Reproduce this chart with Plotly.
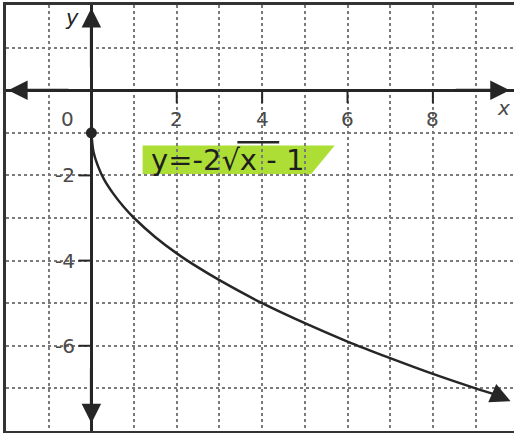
import plotly.graph_objects as go

# curve points (y = -2*sqrt(x) - 1)
curve_x = [0, 0.05, 0.15, 0.3, 0.5, 0.75, 1, 1.5, 2, 2.5, 3, 4, 5, 6, 7, 8, 9, 9.5]
curve_y = [-1, -1.45, -1.77, -2.10, -2.41, -2.73, -3.0, -3.45, -3.83, -4.16, -4.46,
           -5.0, -5.47, -5.9, -6.29, -6.66, -7.0, -7.16]
arrow_end = (9.82, -7.3)
start_point = (0, -1)

x_tick_vals = [2, 4, 6, 8]
x_tick_text = ["2", "4", "6", "8"]
y_tick_vals = [-2, -4, -6]
y_tick_text = ["-2", "-4", "-6"]

x_range = [-2, 9.9]
y_range = [-8, 2]

dark = "#262626"
grid = "#7a7a7a"
label_font = dict(family="DejaVu Sans", size=20, color="#4a4a4a")

fig = go.Figure()

fig.add_trace(go.Scatter(x=curve_x, y=curve_y, mode="lines",
                         line=dict(color=dark, width=2.5, shape="spline"),
                         hoverinfo="skip", showlegend=False))
fig.add_trace(go.Scatter(x=[start_point[0]], y=[start_point[1]], mode="markers",
                         marker=dict(color=dark, size=11), showlegend=False))

shapes = []
for v in x_tick_vals:
    shapes.append(dict(type="line", x0=v, x1=v, y0=0, y1=-0.3, xref="x", yref="y",
                       line=dict(color=dark, width=2)))
for v in y_tick_vals:
    shapes.append(dict(type="line", x0=-0.3, x1=0, y0=v, y1=v, xref="x", yref="y",
                       line=dict(color=dark, width=2)))
shapes.append(dict(type="path", path="M 1.2,-1.3 L 5.7,-1.3 L 5.15,-1.97 L 1.2,-1.97 Z",
                   xref="x", yref="y", fillcolor="#a9dc2a", line=dict(width=0),
                   layer="below", opacity=0.95))
shapes.append(dict(type="line", x0=3.42, x1=4.4, y0=-1.22, y1=-1.22, xref="x", yref="y",
                   line=dict(color=dark, width=2.5)))

annotations = []
for v, t in zip(x_tick_vals, x_tick_text):
    annotations.append(dict(x=v, y=-0.68, text=t, showarrow=False, font=label_font))
annotations.append(dict(x=-0.55, y=-0.68, text="0", showarrow=False, font=label_font))
for v, t in zip(y_tick_vals, y_tick_text):
    annotations.append(dict(x=-0.62, y=v, text=t, showarrow=False, font=label_font))
annotations.append(dict(x=9.65, y=-0.42, text="<i>x</i>", showarrow=False, font=label_font))
annotations.append(dict(x=-0.45, y=1.7, text="<i>y</i>", showarrow=False,
                        font=dict(family="DejaVu Sans", size=21, color=dark)))
annotations.append(dict(x=3.2, y=-1.64, text="y=-2√x - 1", showarrow=False,
                        font=dict(family="DejaVu Sans", size=29, color="#1e1e1e")))

def arrow(tx, ty, fx, fy):
    return dict(x=tx, y=ty, ax=fx, ay=fy, xref="x", yref="y", axref="x", ayref="y",
                showarrow=True, arrowhead=2, arrowsize=1.3, arrowwidth=3,
                arrowcolor=dark, text="")

annotations.append(arrow(9.8, 0, 8.5, 0))
annotations.append(arrow(-1.95, 0, -0.5, 0))
annotations.append(arrow(0, 1.93, 0, 0.5))
annotations.append(arrow(0, -7.82, 0, -6.5))
annotations.append(dict(x=arrow_end[0], y=arrow_end[1], ax=curve_x[-1], ay=curve_y[-1],
                        xref="x", yref="y", axref="x", ayref="y", showarrow=True,
                        arrowhead=2, arrowsize=1.6, arrowwidth=2.5, arrowcolor=dark, text=""))

fig.update_layout(
    width=514, height=433,
    margin=dict(l=6, r=0, t=5, b=2),
    paper_bgcolor="white", plot_bgcolor="white",
    shapes=shapes, annotations=annotations,
    showlegend=False,
    xaxis=dict(range=x_range, dtick=1, tick0=0, showgrid=True, gridcolor=grid,
               griddash="dot", gridwidth=1.5, zeroline=True, zerolinecolor=dark,
               zerolinewidth=3, showticklabels=False, showline=True, linecolor="#333",
               linewidth=3, mirror=True, ticks=""),
    yaxis=dict(range=y_range, dtick=1, tick0=0, showgrid=True, gridcolor=grid,
               griddash="dot", gridwidth=1.5, zeroline=True, zerolinecolor=dark,
               zerolinewidth=3, showticklabels=False, showline=True, linecolor="#333",
               linewidth=3, mirror=False, ticks=""),
)

fig.write_html("out.html", config={"displayModeBar": False},
               post_script="document.body.style.margin='0';document.body.style.overflow='hidden';")
